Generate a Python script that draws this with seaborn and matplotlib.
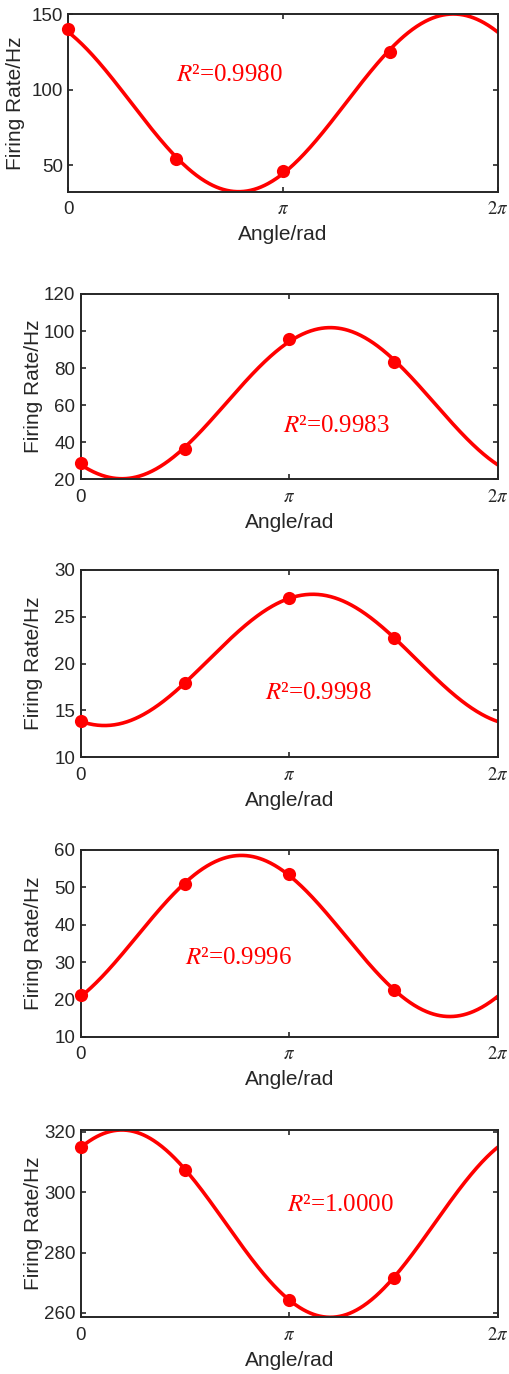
import numpy as np
import pandas as pd
import matplotlib
matplotlib.use("Agg")
import matplotlib.pyplot as plt
import seaborn as sns

# ---------------- data ----------------
angles = [0.0, np.pi / 2, np.pi, 3 * np.pi / 2]
rates_1 = [140.0, 54.0, 46.5, 125.0]
rates_2 = [29.0, 36.3, 95.5, 83.5]
rates_3 = [13.9, 17.9, 27.05, 22.75]
rates_4 = [21.1, 50.95, 53.45, 22.4]
rates_5 = [315.1, 307.4, 264.4, 271.5]
r2_labels = ["0.9980", "0.9983", "0.9998", "0.9996", "1.0000"]
y_ticks_1 = [50, 100, 150]
y_ticks_2 = [20, 40, 60, 80, 100, 120]
y_ticks_3 = [10, 15, 20, 25, 30]
y_ticks_4 = [10, 20, 30, 40, 50, 60]
y_ticks_5 = [260, 280, 300, 320]
x_ticks = [0.0, np.pi, 2 * np.pi]
x_tick_labels = ["0", r"$\pi$", r"$2\pi$"]
x_label = "Angle/rad"
y_label = "Firing Rate/Hz"

panels = [
    dict(y=rates_1, ticks=y_ticks_1, r2=r2_labels[0]),
    dict(y=rates_2, ticks=y_ticks_2, r2=r2_labels[1]),
    dict(y=rates_3, ticks=y_ticks_3, r2=r2_labels[2]),
    dict(y=rates_4, ticks=y_ticks_4, r2=r2_labels[3]),
    dict(y=rates_5, ticks=y_ticks_5, r2=r2_labels[4]),
]

# ---------------- layout / style ----------------
W, H = 509, 1374
# (left, top, right, bottom) in pixels
boxes = [
    (68.3, 14.0, 497.7, 191.7),
    (81.0, 294.0, 497.7, 479.3),
    (81.0, 570.0, 497.7, 757.3),
    (81.0, 850.0, 497.7, 1036.7),
    (81.0, 1130.0, 497.7, 1317.3),
]
ylims = ["tight", (20, 120), (10, 30), (10, 60), "tight"]
text_pos = [(0.251, 0.657), (0.484, 0.289), (0.442, 0.342), (0.250, 0.42), (0.495, 0.60)]
ylabel_x = [-0.10, -0.09, -0.09, -0.09, -0.09]

sns.set_theme(style="ticks")
plt.rcParams["font.family"] = ["Liberation Sans", "DejaVu Sans"]
plt.rcParams["mathtext.fontset"] = "stix"
AX_COLOR = "#262626"
RED = "#ff0000"

fig = plt.figure(figsize=(W / 100, H / 100), dpi=100)
xs = np.linspace(0, 2 * np.pi, 500)
A = np.column_stack([np.ones(4), np.cos(angles), np.sin(angles)])

for i, p in enumerate(panels):
    l, t, r, b = boxes[i]
    ax = fig.add_axes([l / W, 1 - b / H, (r - l) / W, (b - t) / H])
    coef, *_ = np.linalg.lstsq(A, np.array(p["y"]), rcond=None)
    fit = coef[0] + coef[1] * np.cos(xs) + coef[2] * np.sin(xs)
    curve = pd.DataFrame({"angle": xs, "rate": fit})
    pts = pd.DataFrame({"angle": angles, "rate": p["y"]})
    sns.lineplot(data=curve, x="angle", y="rate", ax=ax, color=RED, lw=2.6)
    sns.scatterplot(data=pts, x="angle", y="rate", ax=ax, color=RED, s=90,
                    edgecolor=RED, linewidth=0, zorder=5, clip_on=False)
    ax.set_xlim(0, 2 * np.pi)
    if ylims[i] == "tight":
        ax.set_ylim(fit.min(), fit.max())
    else:
        ax.set_ylim(*ylims[i])
    ax.set_yticks(p["ticks"])
    ax.set_xticks(x_ticks)
    ax.set_xticklabels(x_tick_labels)
    for sp in ax.spines.values():
        sp.set_visible(True)
        sp.set_linewidth(1.4)
        sp.set_color(AX_COLOR)
    ax.tick_params(direction="in", length=3.5, width=1.2, colors=AX_COLOR,
                   labelsize=13.5, top=True, right=True, pad=4)
    ax.tick_params(axis="x", pad=7)
    ax.set_xlabel(x_label, fontsize=15, color=AX_COLOR, labelpad=5)
    ax.set_ylabel(y_label, fontsize=15, color=AX_COLOR)
    ax.yaxis.set_label_coords(ylabel_x[i], 0.5)
    tx, ty = text_pos[i]
    ax.text(tx, ty, r"$\mathit{R}$" + "\u00b2=" + p["r2"], transform=ax.transAxes,
            color=RED, fontsize=18, family=["Liberation Serif", "DejaVu Serif"],
            ha="left", va="center")

fig.savefig("out.png", dpi=100)
